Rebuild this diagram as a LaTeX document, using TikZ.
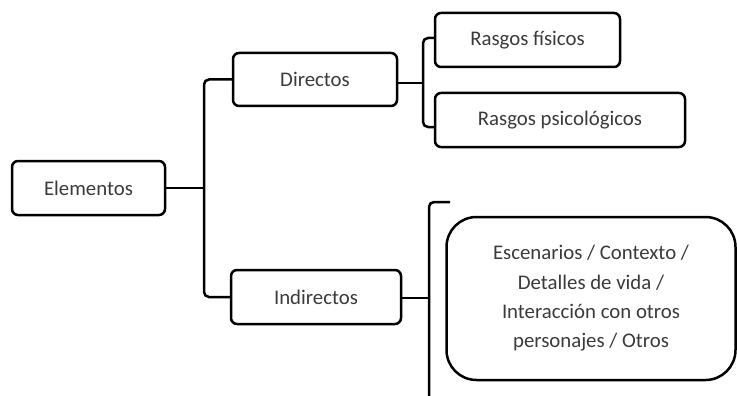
\documentclass[tikz,border=0pt]{standalone}
\usepackage{fontspec}
\setmainfont{Carlito}
\usetikzlibrary{calc}
\definecolor{txt}{HTML}{3A3A3A}
\tikzset{
  box/.style={draw=black, line width=2.5pt, rounded corners=6pt, inner sep=0pt,
    text=txt, font=\fontsize{20.8}{29.3}\selectfont, align=center},
  conn/.style={draw=black, line width=2.5pt, rounded corners=5pt},
}
\begin{document}
\begin{tikzpicture}[x=1pt,y=-1pt]
\useasboundingbox (0,0) rectangle (737,396);
\node[box, minimum width=153pt, minimum height=54pt] (el) at (88.5,188) {Elementos};
\node[box, minimum width=164pt, minimum height=53pt] (di) at (315,79.5) {Directos};
\node[box, minimum width=170pt, minimum height=54pt] (in) at (316,297) {Indirectos};
\node[box, minimum width=185pt, minimum height=54pt] (rf) at (527.5,40) {Rasgos físicos};
\node[box, minimum width=250pt, minimum height=54pt] (rp) at (560,120) {Rasgos psicológicos};
\node[box, rounded corners=30pt, minimum width=289pt, minimum height=163pt] (ot) at (591,298.5)
  {Escenarios / Contexto /\\Detalles de vida /\\Interacción con otros\\personajes / Otros};
% brace 1
\coordinate (b1) at (204,188);
\draw[conn] (di.west) -| (b1) |- (in.west);
\draw[conn] (el.east) -- (b1);
% brace 2
\coordinate (b2) at (423,83);
\draw[conn] ($(rf.west)+(0,-2)$) -| (b2) |- ($(rp.west)+(0,7)$);
\draw[conn] (di.east |- b2) -- (b2);
% brace 3
\coordinate (b3) at (429,298);
\coordinate (b3top) at (450,202);
\coordinate (b3bot) at (429,397);
\draw[conn] (b3top) -| (b3) -- (b3bot);
\draw[conn] (in.east |- b3) -- (b3);
\end{tikzpicture}
\end{document}
